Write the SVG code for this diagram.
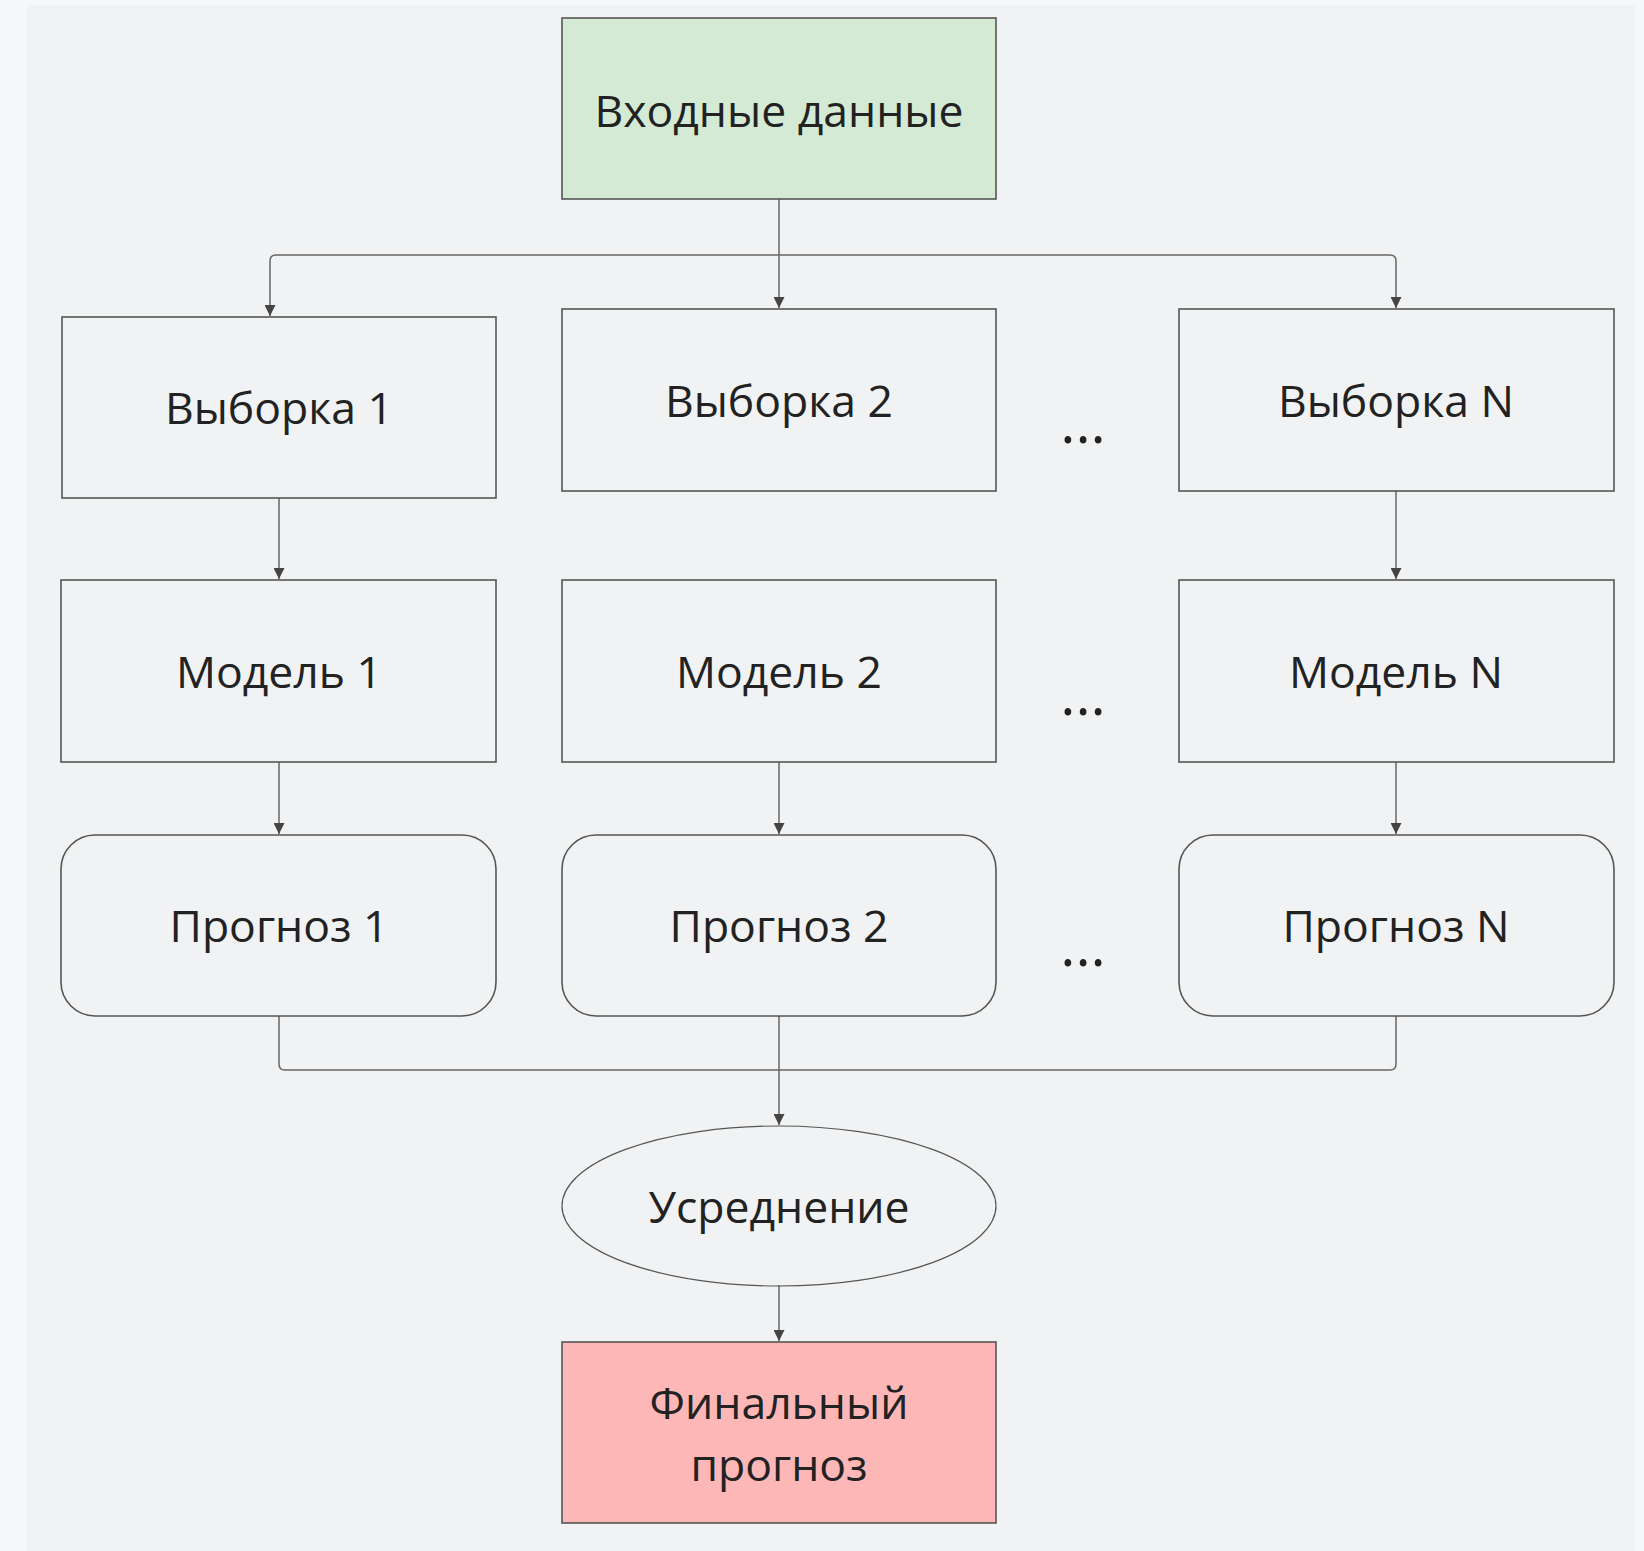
<svg xmlns="http://www.w3.org/2000/svg" width="1644" height="1551" viewBox="0 0 1644 1551">
<style>
  .box{fill:none;stroke:#555;stroke-width:1.6}
  .lbl{font-family:"Open Sans","Noto Sans","Liberation Sans",sans-serif;font-size:44.5px;fill:#222;text-anchor:middle}
  .dots{font-family:"Open Sans","Noto Sans","Liberation Sans",sans-serif;font-size:58px;fill:#222;text-anchor:middle}
  .con{fill:none;stroke:#666;stroke-width:1.5}
</style>
<defs>
  <marker id="arr" viewBox="0 0 10 10" refX="10" refY="5" markerWidth="11" markerHeight="11" markerUnits="userSpaceOnUse" orient="auto">
    <path d="M0,0 L10,5 L0,10 Z" fill="#444"/>
  </marker>
</defs>
<rect x="0" y="0" width="1644" height="1551" fill="#f6f7f8"/>
<rect x="27" y="5" width="1608" height="1546" fill="#f1f2f3"/>

<g id="connectors">
  <path class="con" d="M779,199 V308" marker-end="url(#arr)"/>
  <path class="con" d="M779,255 H276 Q270,255 270,261 V316" marker-end="url(#arr)"/>
  <path class="con" d="M779,255 H1390 Q1396,255 1396,261 V308" marker-end="url(#arr)"/>
  <path class="con" d="M279,498 V579" marker-end="url(#arr)"/>
  <path class="con" d="M1396,491 V579" marker-end="url(#arr)"/>
  <path class="con" d="M279,762 V834" marker-end="url(#arr)"/>
  <path class="con" d="M779,762 V834" marker-end="url(#arr)"/>
  <path class="con" d="M1396,762 V834" marker-end="url(#arr)"/>
  <path class="con" d="M279,1016 V1064 Q279,1070 285,1070 H1390 Q1396,1070 1396,1064 V1016"/>
  <path class="con" d="M779,1016 V1125" marker-end="url(#arr)"/>
  <path class="con" d="M779,1285 V1341" marker-end="url(#arr)"/>
</g>

<g id="input">
  <rect x="562" y="18" width="434" height="181" fill="#d5ead4" stroke="#555" stroke-width="1.6"/>
  <text class="lbl" x="779" y="127">Входные данные</text>
</g>

<g id="sample1">
  <rect class="box" x="62" y="317" width="434" height="181"/>
  <text class="lbl" x="279" y="424">Выборка 1</text>
</g>
<g id="sample2">
  <rect class="box" x="562" y="309" width="434" height="182"/>
  <text class="lbl" x="779" y="417">Выборка 2</text>
</g>
<g id="sampleN">
  <rect class="box" x="1179" y="309" width="435" height="182"/>
  <text class="lbl" x="1396" y="417">Выборка N</text>
</g>
<g id="dots1"><text class="dots" x="1083" y="443">...</text></g>

<g id="model1">
  <rect class="box" x="61" y="580" width="435" height="182"/>
  <text class="lbl" x="279" y="688">Модель 1</text>
</g>
<g id="model2">
  <rect class="box" x="562" y="580" width="434" height="182"/>
  <text class="lbl" x="779" y="688">Модель 2</text>
</g>
<g id="modelN">
  <rect class="box" x="1179" y="580" width="435" height="182"/>
  <text class="lbl" x="1396" y="688">Модель N</text>
</g>
<g id="dots2"><text class="dots" x="1083" y="715">...</text></g>

<g id="pred1">
  <rect class="box" x="61" y="835" width="435" height="181" rx="34" ry="34"/>
  <text class="lbl" x="279" y="942">Прогноз 1</text>
</g>
<g id="pred2">
  <rect class="box" x="562" y="835" width="434" height="181" rx="34" ry="34"/>
  <text class="lbl" x="779" y="942">Прогноз 2</text>
</g>
<g id="predN">
  <rect class="box" x="1179" y="835" width="435" height="181" rx="34" ry="34"/>
  <text class="lbl" x="1396" y="942">Прогноз N</text>
</g>
<g id="dots3"><text class="dots" x="1083" y="966">...</text></g>

<g id="avg">
  <ellipse cx="779" cy="1206" rx="217" ry="80" fill="none" stroke="#555" stroke-width="1.2"/>
  <text class="lbl" x="779" y="1223">Усреднение</text>
</g>

<g id="final">
  <rect x="562" y="1342" width="434" height="181" fill="#feb7b7" stroke="#555" stroke-width="1.6"/>
  <text class="lbl" x="779" y="1419">Финальный</text>
  <text class="lbl" x="779" y="1481">прогноз</text>
</g>
</svg>
